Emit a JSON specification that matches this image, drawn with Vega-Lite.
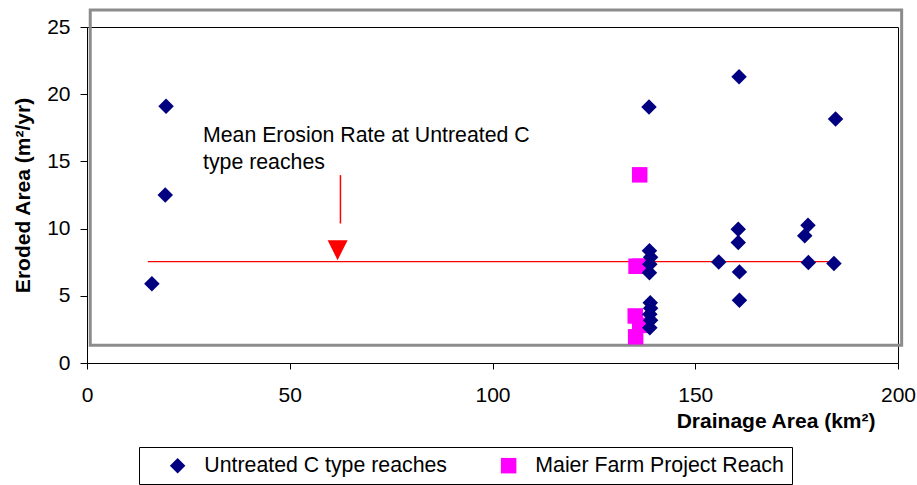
{
  "$schema": "https://vega.github.io/schema/vega-lite/v6.json",
  "width": 811,
  "height": 336,
  "autosize": {"type": "none"},
  "padding": {"left": 87, "top": 27, "right": 19, "bottom": 122},
  "background": "white",
  "config": {
    "view": {"stroke": "#000000", "strokeWidth": 1},
    "font": "Liberation Sans",
    "axis": {
      "grid": false,
      "labelFlush": false,
      "domainColor": "#000000",
      "tickColor": "#000000",
      "labelColor": "#000000",
      "titleColor": "#000000",
      "labelFont": "Liberation Sans",
      "labelFontSize": 21,
      "titleFont": "Liberation Sans",
      "titleFontSize": 21,
      "titleFontWeight": "bold"
    }
  },
  "datasets": {
    "points": [
      {"x": 136.3, "y": 14.0, "series": "Maier Farm Project Reach"},
      {"x": 135.4, "y": 7.2, "series": "Maier Farm Project Reach"},
      {"x": 136.4, "y": 7.2, "series": "Maier Farm Project Reach"},
      {"x": 135.2, "y": 3.5, "series": "Maier Farm Project Reach"},
      {"x": 136.3, "y": 2.8, "series": "Maier Farm Project Reach"},
      {"x": 135.3, "y": 1.95, "series": "Maier Farm Project Reach"},
      {"x": 16.0, "y": 5.9, "series": "Untreated C type reaches"},
      {"x": 19.3, "y": 12.5, "series": "Untreated C type reaches"},
      {"x": 19.5, "y": 19.1, "series": "Untreated C type reaches"},
      {"x": 138.6, "y": 19.05, "series": "Untreated C type reaches"},
      {"x": 160.8, "y": 21.3, "series": "Untreated C type reaches"},
      {"x": 184.6, "y": 18.15, "series": "Untreated C type reaches"},
      {"x": 160.6, "y": 9.96, "series": "Untreated C type reaches"},
      {"x": 160.6, "y": 8.96, "series": "Untreated C type reaches"},
      {"x": 177.8, "y": 10.25, "series": "Untreated C type reaches"},
      {"x": 177.0, "y": 9.46, "series": "Untreated C type reaches"},
      {"x": 155.8, "y": 7.52, "series": "Untreated C type reaches"},
      {"x": 160.9, "y": 6.78, "series": "Untreated C type reaches"},
      {"x": 160.9, "y": 4.67, "series": "Untreated C type reaches"},
      {"x": 177.9, "y": 7.47, "series": "Untreated C type reaches"},
      {"x": 184.2, "y": 7.4, "series": "Untreated C type reaches"},
      {"x": 138.7, "y": 8.35, "series": "Untreated C type reaches"},
      {"x": 139.0, "y": 7.87, "series": "Untreated C type reaches"},
      {"x": 138.8, "y": 7.35, "series": "Untreated C type reaches"},
      {"x": 138.7, "y": 6.72, "series": "Untreated C type reaches"},
      {"x": 138.9, "y": 4.48, "series": "Untreated C type reaches"},
      {"x": 139.0, "y": 4.07, "series": "Untreated C type reaches"},
      {"x": 138.8, "y": 3.63, "series": "Untreated C type reaches"},
      {"x": 139.0, "y": 3.18, "series": "Untreated C type reaches"},
      {"x": 138.8, "y": 2.62, "series": "Untreated C type reaches"}
    ],
    "mean": [{"x": 15, "x2": 184, "y": 7.55}],
    "frame": [{"x": 0.8, "x2": 200.9, "y": 1.32, "y2": 26.26}],
    "arrow": [{"x": 62.5, "y": 13.98, "y2": 10.38}],
    "marker": [{"x": 61.8, "y": 8.39}],
    "notes": [
      {"x": 28.6, "y": 16.41, "text": "Mean Erosion Rate at Untreated C"},
      {"x": 28.6, "y": 14.47, "text": "type  reaches"}
    ]
  },
  "encoding": {
    "x": {
      "field": "x",
      "type": "quantitative",
      "scale": {"domain": [0, 200], "nice": false, "zero": false},
      "axis": {
        "values": [0, 50, 100, 150, 200],
        "tickSize": 6,
        "labelPadding": 15,
        "title": "Drainage Area (km²)",
        "titleX": 788,
        "titleY": 58,
        "titleAlign": "right",
        "titleAnchor": "end",
        "titleBaseline": "middle"
      }
    },
    "y": {
      "field": "y",
      "type": "quantitative",
      "scale": {"domain": [0, 25], "nice": false, "zero": false},
      "axis": {
        "values": [0, 5, 10, 15, 20, 25],
        "tickSize": 7,
        "labelPadding": 10,
        "title": "Eroded Area (m²/yr)",
        "titleX": -64,
        "titleY": 168,
        "titleAngle": -90,
        "titleAlign": "center",
        "titleBaseline": "middle"
      }
    }
  },
  "layer": [
    {
      "data": {"name": "frame"},
      "mark": {"type": "rect", "fill": null, "fillOpacity": 0, "stroke": "#8c8c8c", "strokeWidth": 3, "clip": false},
      "encoding": {
        "x2": {"field": "x2"},
        "y2": {"field": "y2"}
      }
    },
    {
      "data": {"name": "mean"},
      "mark": {"type": "rule", "stroke": "#ff0000", "color": "#ff0000", "strokeWidth": 1.2},
      "encoding": {
        "x2": {"field": "x2"}
      }
    },
    {
      "data": {"name": "arrow"},
      "mark": {"type": "rule", "stroke": "#ff0000", "color": "#ff0000", "strokeWidth": 1.5},
      "encoding": {
        "y2": {"field": "y2"}
      }
    },
    {
      "data": {"name": "marker"},
      "mark": {"type": "point", "shape": "M-1,-1L1,-1L0,1Z", "filled": true, "color": "#ff0000", "size": 400, "opacity": 1, "strokeWidth": 0}
    },
    {
      "data": {"name": "notes"},
      "mark": {"type": "text", "align": "left", "baseline": "alphabetic", "fontSize": 21.3, "font": "Liberation Sans", "color": "#000000"},
      "encoding": {
        "text": {"field": "text"}
      }
    },
    {
      "data": {"name": "points"},
      "mark": {"type": "point", "filled": true, "size": 240, "opacity": 1, "strokeWidth": 0},
      "encoding": {
        "color": {
          "field": "series",
          "type": "nominal",
          "scale": {"domain": ["Untreated C type reaches", "Maier Farm Project Reach"], "range": ["#000080", "#ff00ff"]},
          "legend": {
            "title": null, "orient": "none", "legendX": 52, "legendY": 420,
            "direction": "horizontal", "columns": 2,
            "labelFontSize": 21.3, "labelFont": "Liberation Sans", "labelColor": "#000000",
            "symbolOffset": 20, "labelOffset": 16, "columnPadding": 31, "padding": 8,
            "strokeColor": "#000000", "fillColor": "#ffffff",
            "symbolSize": 240, "symbolStrokeWidth": 0, "labelBaseline": "middle", "labelLimit": 400
          }
        },
        "shape": {
          "field": "series",
          "type": "nominal",
          "scale": {"domain": ["Untreated C type reaches", "Maier Farm Project Reach"], "range": ["diamond", "square"]},
          "legend": {
            "title": null, "orient": "none", "legendX": 52, "legendY": 420,
            "direction": "horizontal", "columns": 2,
            "labelFontSize": 21.3, "labelFont": "Liberation Sans", "labelColor": "#000000",
            "symbolOffset": 20, "labelOffset": 16, "columnPadding": 31, "padding": 8,
            "strokeColor": "#000000", "fillColor": "#ffffff",
            "symbolSize": 240, "symbolStrokeWidth": 0, "labelBaseline": "middle", "labelLimit": 400
          }
        }
      }
    }
  ]
}
